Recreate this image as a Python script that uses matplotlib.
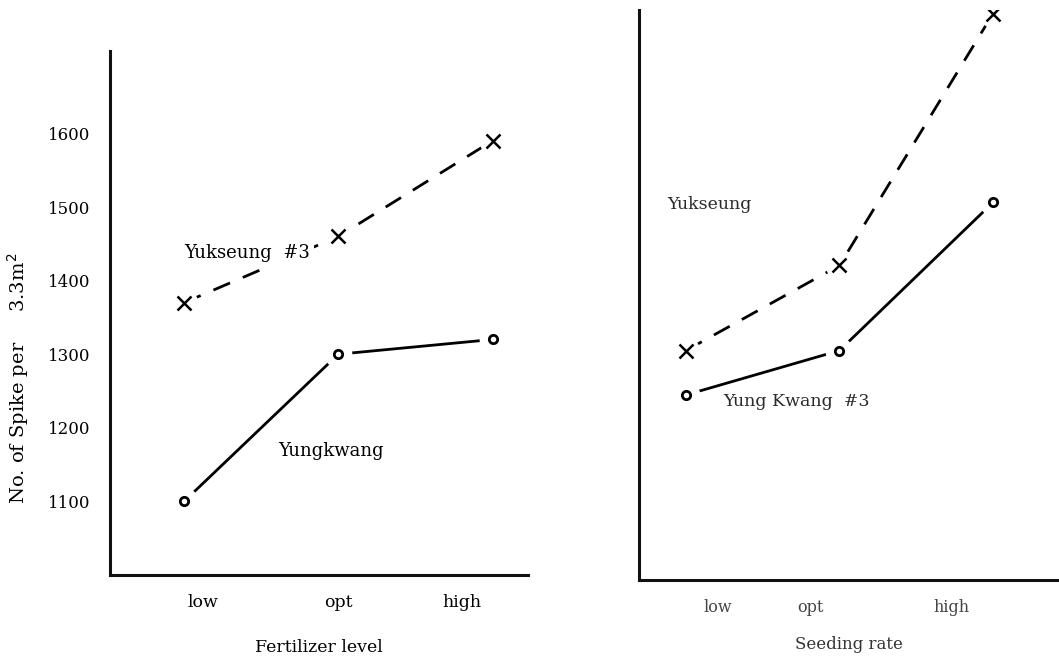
import matplotlib
matplotlib.use("Agg")
import matplotlib.pyplot as plt

# ── Data ──────────────────────────────────────────────────────────────────────
levels = ["low", "opt", "high"]

fert_yukseung  = [1370, 1460, 1590]
fert_yungkwang = [1100, 1300, 1320]

seed_yukseung  = [1310, 1425, 1765]
seed_yungkwang = [1250, 1310, 1510]

y_ticks = [1100, 1200, 1300, 1400, 1500, 1600]

plt.rcParams["font.family"] = ["DejaVu Serif"]

fig = plt.figure(figsize=(10.59, 6.57), dpi=100)
ax1 = fig.add_axes([0.1039, 0.1248, 0.3947, 0.7976])
ax2 = fig.add_axes([0.6034, 0.1172, 0.3966, 0.8676])


def draw_series(ax, xs, ys, marker, dashed, color):
    ls = (0, (6.5, 5)) if dashed else "-"
    ax.plot(xs, ys, color=color, lw=2.0, ls=ls, zorder=2,
            solid_capstyle="butt", dash_capstyle="butt")
    # white halo so the line stops short of each point, like the hand drawing
    ax.plot(xs, ys, ls="none", marker="o", ms=19, mfc="white", mec="white", zorder=3)
    if marker == "x":
        ax.plot(xs, ys, ls="none", marker="x", ms=10, mew=1.8, color=color, zorder=4)
    else:
        ax.plot(xs, ys, ls="none", marker="o", ms=6, mfc="white", mew=2.0,
                mec=color, zorder=4)


def style_axes(ax, spine_color, spine_lw):
    for side in ("top", "right"):
        ax.spines[side].set_visible(False)
    for side in ("left", "bottom"):
        ax.spines[side].set_color(spine_color)
        ax.spines[side].set_linewidth(spine_lw)
    ax.tick_params(length=0)


xs = list(range(len(levels)))
label_box = dict(facecolor="white", edgecolor="none", pad=3)

# ── Left: fertilizer level ───────────────────────────────────────────────────
draw_series(ax1, xs, fert_yukseung, "x", True, "black")
draw_series(ax1, xs, fert_yungkwang, "o", False, "black")
ax1.set_xlim(-0.48, 2.23)
ax1.set_ylim(1000, 1712)
style_axes(ax1, "#111111", 2.2)
ax1.set_yticks(y_ticks)
ax1.set_yticklabels([str(v) for v in y_ticks], fontsize=12)
ax1.tick_params(axis="y", pad=14)
ax1.set_xticks([0.12, 1.0, 1.8])
ax1.set_xticklabels(levels, fontsize=12.5)
ax1.tick_params(axis="x", pad=14)
ax1.set_xlabel("Fertilizer level", fontsize=12.5, labelpad=20)
ax1.set_ylabel("No. of Spike per     3.3m$^2$", fontsize=14)
ax1.yaxis.set_label_coords(-0.19, 0.376)
ax1.text(0.0, 1437, "Yukseung  #3", fontsize=13, va="center", ha="left",
         bbox=label_box, zorder=3.5)
ax1.text(0.61, 1168, "Yungkwang", fontsize=13, va="center", ha="left")

# ── Right: seeding rate ──────────────────────────────────────────────────────
gray = "#2a2a2a"
draw_series(ax2, xs, seed_yukseung, "x", True, "black")
draw_series(ax2, xs, seed_yungkwang, "o", False, "black")
ax2.set_xlim(-0.306, 2.43)
ax2.set_ylim(1000, 1770)
style_axes(ax2, "#111111", 2.2)
ax2.set_yticks([])
ax2.set_xticks([0.21, 0.81, 1.73])
ax2.set_xticklabels(levels, fontsize=11.5, color="#444444")
ax2.tick_params(axis="x", pad=14)
ax2.set_xlabel("Seeding rate", fontsize=12, color="#333333", labelpad=14)
ax2.text(-0.12, 1507, "Yukseung", fontsize=12.5, color=gray, va="center", ha="left")
ax2.text(0.24, 1241, "Yung Kwang  #3", fontsize=12.5, color=gray, va="center", ha="left")

fig.savefig("out.png", dpi=100)
